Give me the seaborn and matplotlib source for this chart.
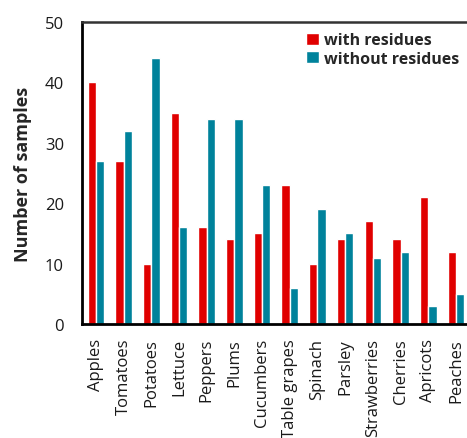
import numpy as np
import pandas as pd
import matplotlib
matplotlib.use("Agg")
import matplotlib.pyplot as plt
import seaborn as sns

categories = ["Apples", "Tomatoes", "Potatoes", "Lettuce", "Peppers", "Plums",
              "Cucumbers", "Table grapes", "Spinach", "Parsley", "Strawberries",
              "Cherries", "Apricots", "Peaches"]
with_residues = [40, 27, 10, 35, 16, 14, 15, 23, 10, 14, 17, 14, 21, 12]
without_residues = [27, 32, 44, 16, 34, 34, 23, 6, 19, 15, 11, 12, 3, 5]
series_names = ["with residues", "without residues"]
y_ticks = [0, 10, 20, 30, 40, 50]

sns.set_style("white")
plt.rcParams["font.family"] = ["Open Sans", "DejaVu Sans"]

df = pd.DataFrame({
    "category": categories * 2,
    "value": with_residues + without_residues,
    "series": [series_names[0]] * len(categories) + [series_names[1]] * len(categories),
})

fig = plt.figure(figsize=(4.67, 4.39), dpi=100)
ax = fig.add_axes([0.1756, 0.2597, 0.8304, 0.6879])

sns.barplot(data=df, x="category", y="value", hue="series",
            palette=["#E00000", "#00829B"], width=0.6, gap=0,
            saturation=1, ax=ax, legend=True)

ax.set_ylim(0, 50)
ax.set_xlim(-0.5, len(categories) - 0.5)
ax.set_yticks(y_ticks)
ax.tick_params(axis="y", length=0, labelsize=12, pad=13, colors="#1a1a1a")
ax.set_xticks(range(len(categories)))
ax.set_xticklabels(categories, rotation=90, fontsize=12, color="#1a1a1a")
ax.tick_params(axis="x", which="major", length=0, pad=10)
ax.set_xticks(np.arange(len(categories) + 1) - 0.5, minor=True)
ax.tick_params(axis="x", which="minor", length=6, width=1.5, direction="out", color="black")

ax.set_xlabel("")
ax.set_ylabel("Number of samples", fontsize=13, fontweight="bold", labelpad=9)

for side in ["left", "bottom"]:
    ax.spines[side].set_linewidth(2)
    ax.spines[side].set_color("black")
ax.spines["top"].set_linewidth(1.8)
ax.spines["top"].set_color("#333333")
ax.spines["right"].set_visible(False)

leg = ax.legend(loc="upper right", bbox_to_anchor=(1.0, 1.0), frameon=False,
                prop={"weight": "bold", "size": 11.5}, handlelength=0.8,
                handleheight=0.8, handletextpad=0.35, labelspacing=0.15,
                borderaxespad=0.25)

fig.savefig("out.png", dpi=100)
